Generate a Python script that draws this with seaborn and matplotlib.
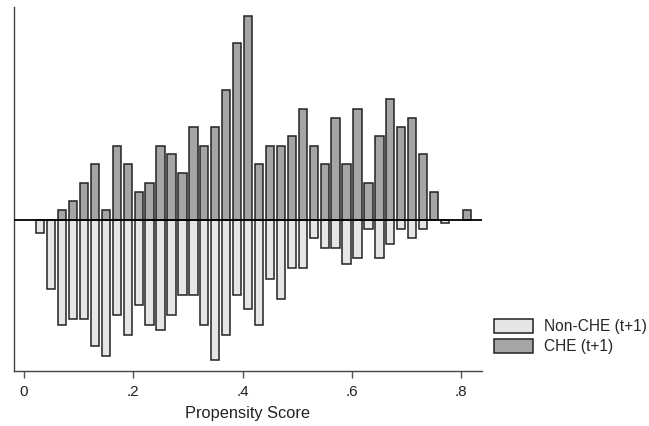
import matplotlib
matplotlib.use("Agg")
import matplotlib.pyplot as plt
import seaborn as sns
import pandas as pd
from matplotlib.patches import Patch

# Bin midpoints (propensity score) and bar heights (arbitrary density units)
che_x = [0.07, 0.09, 0.11, 0.13, 0.15, 0.17, 0.19, 0.21, 0.23, 0.25, 0.27, 0.29,
         0.31, 0.33, 0.35, 0.37, 0.39, 0.41, 0.43, 0.45, 0.47, 0.49, 0.51, 0.53,
         0.55, 0.57, 0.59, 0.61, 0.63, 0.65, 0.67, 0.69, 0.71, 0.73, 0.75, 0.81]
che_y = [0.30, 0.58, 1.12, 1.67, 0.30, 2.23, 1.67, 0.85, 1.12, 2.23, 1.97, 1.40,
         2.78, 2.23, 2.78, 3.90, 5.30, 6.12, 1.67, 2.23, 2.23, 2.52, 3.33, 2.23,
         1.67, 3.05, 1.67, 3.33, 1.12, 2.52, 3.63, 2.78, 3.05, 1.97, 0.85, 0.30]

nonche_x = [0.03, 0.05, 0.07, 0.09, 0.11, 0.13, 0.15, 0.17, 0.19, 0.21, 0.23, 0.25,
            0.27, 0.29, 0.31, 0.33, 0.35, 0.37, 0.39, 0.41, 0.43, 0.45, 0.47, 0.49,
            0.51, 0.53, 0.55, 0.57, 0.59, 0.61, 0.63, 0.65, 0.67, 0.69, 0.71, 0.73, 0.77]
nonche_y = [0.40, 2.07, 3.15, 2.98, 2.98, 3.77, 4.08, 2.85, 3.46, 2.55, 3.15, 3.30,
            2.85, 2.25, 2.25, 3.15, 4.21, 3.46, 2.25, 2.68, 3.15, 1.77, 2.37, 1.45,
            1.45, 0.54, 0.85, 0.85, 1.32, 1.15, 0.28, 1.15, 0.72, 0.28, 0.54, 0.28, 0.10]

xticks = [0, 0.2, 0.4, 0.6, 0.8]
xticklabels = ["0", ".2", ".4", ".6", ".8"]
labels = ["Non-CHE (t+1)", "CHE (t+1)"]

sns.set_style("white")
plt.rcParams["font.family"] = ["Liberation Sans", "DejaVu Sans"]

col_che = "#a5a5a5"
col_non = "#e6e6e6"
edge = "#222222"

fig = plt.figure(figsize=(6.49, 4.26), dpi=100)
ax = fig.add_axes([0.0216, 0.129, 0.7205, 0.855])

df_che = pd.DataFrame({"x": che_x, "y": che_y})
df_non = pd.DataFrame({"x": nonche_x, "y": [-v for v in nonche_y]})

sns.barplot(data=df_non, x="x", y="y", native_scale=True, width=0.76,
            color=col_non, saturation=1, edgecolor=edge, linewidth=1.1, ax=ax,
            errorbar=None)
sns.barplot(data=df_che, x="x", y="y", native_scale=True, width=0.76,
            color=col_che, saturation=1, edgecolor=edge, linewidth=1.1, ax=ax,
            errorbar=None)

ax.axhline(0, color="black", lw=1.3, zorder=5)

ax.set_xlim(-0.018, 0.837)
ax.set_ylim(-4.53, 6.40)
ax.set_xticks(xticks)
ax.set_xticklabels(xticklabels, fontsize=11, color="#222222")
ax.set_yticks([])
ax.set_ylabel("")
ax.set_xlabel("Propensity Score", fontsize=11.8, color="#222222", labelpad=5)
ax.tick_params(axis="x", direction="out", length=5, width=1, color="#555555",
               bottom=True, pad=5)
for s in ["top", "right"]:
    ax.spines[s].set_visible(False)
for s in ["left", "bottom"]:
    ax.spines[s].set_color("#444444")
    ax.spines[s].set_linewidth(1.0)

handles = [Patch(facecolor=col_non, edgecolor=edge, linewidth=1.1),
           Patch(facecolor=col_che, edgecolor=edge, linewidth=1.1)]
fig.legend(handles, labels, loc="upper left", bbox_to_anchor=(0.757, 0.258),
           frameon=False, fontsize=11.2, handlelength=2.5, handleheight=1.0,
           handletextpad=0.7, labelspacing=0.3, borderpad=0.2, borderaxespad=0)

fig.savefig("out.png", dpi=100)
